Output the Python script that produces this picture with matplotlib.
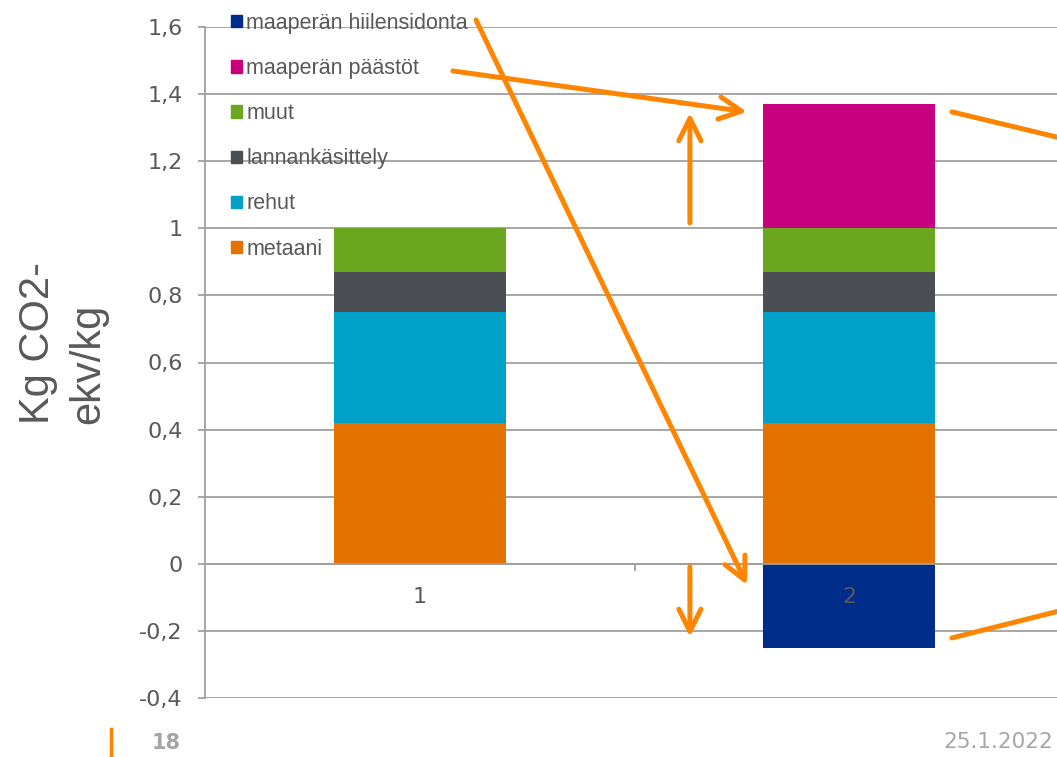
import matplotlib as mpl
mpl.use('agg')
import matplotlib.pyplot as plt
from matplotlib.patches import Patch
from matplotlib.ticker import FuncFormatter, FixedLocator

plt.rcParams['font.family'] = ['DejaVu Sans']

categories = ['1', '2']
metaani = [0.42, 0.42]
rehut = [0.33, 0.33]
lannankasittely = [0.12, 0.12]
muut = [0.13, 0.13]
maaperan_paastot = [0.0, 0.37]
maaperan_hiilensidonta = [0.0, -0.25]

series_names = ['metaani', 'rehut', 'lannankäsittely', 'muut',
                'maaperän päästöt', 'maaperän hiilensidonta']
series_vals = [metaani, rehut, lannankasittely, muut,
               maaperan_paastot, maaperan_hiilensidonta]
colors = ['#E37200', '#00A1C9', '#4B4E52', '#6AA71E', '#C8007F', '#002D8A']

W, H = 1057, 757
fig = plt.figure(figsize=(W / 100, H / 100), dpi=100)
ax = fig.add_axes([205 / W, 1 - 698 / H, (1064 - 205) / W, (698 - 27) / H])

grey = '#595959'
x = list(range(len(categories)))
pos = [0.0] * len(categories)
for name, vals, c in zip(series_names, series_vals, colors):
    bottoms = []
    for i, v in enumerate(vals):
        if v >= 0:
            bottoms.append(pos[i])
            pos[i] += v
        else:
            bottoms.append(0.0)
    ax.bar(x, vals, bottom=bottoms, width=0.4, color=c, label=name, zorder=1)

ax.set_xlim(-0.5, 1.5)
ax.set_ylim(-0.4, 1.6)
ax.yaxis.set_major_locator(FixedLocator([-0.4 + 0.2 * k for k in range(11)]))

def fmt(v, p):
    v = round(v, 2)
    if v == 0:
        return '0'
    return ('%g' % v).replace('.', ',')

ax.yaxis.set_major_formatter(FuncFormatter(fmt))
ax.set_axisbelow(True)
ax.grid(axis='y', color='#A0A0A0', lw=1.3)
ax.xaxis.set_zorder(3)

for s in ['top', 'right']:
    ax.spines[s].set_visible(False)
ax.spines['left'].set_color('#A0A0A0')
ax.spines['left'].set_linewidth(1.3)
ax.spines['bottom'].set_position(('data', 0))
ax.spines['bottom'].set_color('#A0A0A0')
ax.spines['bottom'].set_linewidth(1.3)

ax.set_xticks(x)
ax.set_xticklabels(categories)
ax.set_xticks([0.5], minor=True)
ax.tick_params(axis='x', which='major', length=0, pad=17, labelsize=16, labelcolor=grey)
ax.tick_params(axis='x', which='minor', length=5, color='#A0A0A0', width=1.3)
ax.tick_params(axis='y', length=5, color='#A0A0A0', width=1.3, pad=11,
               labelsize=16, labelcolor=grey)

fig.text(63 / W, 1 - 424 / H, 'Kg CO2-\nekv/kg', rotation=90, fontsize=30,
         family='Liberation Sans', color=grey, ha='center', va='bottom',
         multialignment='left', linespacing=1.32)

handles = [Patch(color=c, label=n) for n, c in zip(series_names, colors)][::-1]
leg = fig.legend(handles=handles, loc='upper left',
                 bbox_to_anchor=(231 / W, 1 - 13 / H), frameon=False,
                 prop={'family': 'Liberation Sans', 'size': 15.5},
                 labelcolor=grey, handlelength=0.5,
                 handleheight=0.5, handletextpad=0.2, labelspacing=1.12,
                 borderpad=0, borderaxespad=0)

# orange annotation arrows (data coords)
orange = '#FF8500'
arrows = [
    ((0.131, 1.621), (0.762, -0.063), True),
    ((0.077, 1.469), (0.762, 1.347), True),
    ((0.629, 1.016), (0.629, 1.344), True),
    ((0.629, -0.009), (0.629, -0.218), True),
    ((1.239, 1.347), (1.60, 1.236), False),
    ((1.239, -0.221), (1.60, -0.105), False),
]
for start, end, head in arrows:
    style = '->,head_length=1.6,head_width=0.8' if head else '-'
    ax.annotate('', xy=end, xytext=start, annotation_clip=False,
                arrowprops=dict(arrowstyle=style, color=orange, lw=3.6,
                                mutation_scale=10, shrinkA=0, shrinkB=0),
                zorder=4)

# footer
fig.add_artist(plt.Line2D([111 / W, 111 / W], [0, 1 - 729 / H],
                          color='#FF8500', lw=2.5))
fig.text(152 / W, 1 - 743 / H, '18', fontsize=15, fontweight='bold',
         color='#A6A6A6', va='center', ha='left')
fig.text(1053 / W, 1 - 742 / H, '25.1.2022', fontsize=15.5,
         color='#A6A6A6', va='center', ha='right')

fig.savefig('out.png', dpi=100)
